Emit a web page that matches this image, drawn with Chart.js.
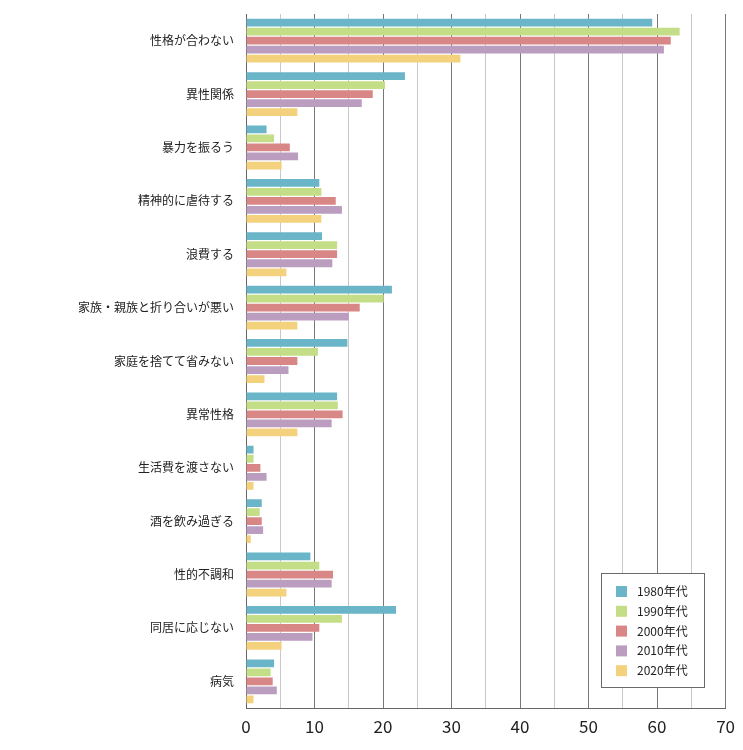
<!DOCTYPE html>
<html>
<head>
<meta charset="utf-8">
<script src="https://cdn.jsdelivr.net/npm/chart.js@4.4.0/dist/chart.umd.min.js"></script>
<style>
html,body{margin:0;padding:0;background:#fff;}
#wrap{width:743px;height:750px;position:relative;}
</style>
</head>
<body>
<div id="wrap"><canvas id="c" width="743" height="750"></canvas></div>
<script>
const categories = ["性格が合わない","異性関係","暴力を振るう","精神的に虐待する","浪費する","家族・親族と折り合いが悪い","家庭を捨てて省みない","異常性格","生活費を渡さない","酒を飲み過ぎる","性的不調和","同居に応じない","病気"];
const seriesNames = ["1980年代","1990年代","2000年代","2010年代","2020年代"];
const s1980 = [59.3,23.2,3.0,10.7,11.1,21.3,14.8,13.3,1.1,2.3,9.4,21.9,4.1];
const s1990 = [63.3,20.3,4.1,11.0,13.3,20.1,10.5,13.4,1.1,2.0,10.7,14.0,3.6];
const s2000 = [62.0,18.5,6.4,13.1,13.3,16.6,7.5,14.1,2.1,2.3,12.7,10.7,3.9];
const s2010 = [61.0,16.9,7.6,14.0,12.6,15.0,6.2,12.5,3.0,2.5,12.5,9.7,4.5];
const s2020 = [31.3,7.5,5.2,11.0,5.9,7.5,2.7,7.5,1.1,0.7,5.9,5.2,1.1];
const xTicks = [0,10,20,30,40,50,60,70];
const colors = ["#6bb5c8","#c4de87","#d98786","#bb9dc0","#f4d17c"];

const FONT = "'Noto Sans CJK JP','Noto Sans',sans-serif";
const allSeries = [s1980,s1990,s2000,s2010,s2020];

const legendBox = {
  id:'legendBox',
  afterDraw(chart){
    const ctx = chart.ctx;
    const x0=601, y0=573, w=103, h=114;
    ctx.save();
    ctx.fillStyle='#fff';
    ctx.fillRect(x0,y0,w,h);
    ctx.strokeStyle='#6a6a6a';
    ctx.lineWidth=1;
    ctx.strokeRect(x0+0.5,y0+0.5,w,h);
    ctx.font="12px "+FONT;
    ctx.textBaseline='middle';
    ctx.textAlign='left';
    seriesNames.forEach((n,i)=>{
      const cy = 591 + i*19.8;
      ctx.fillStyle=colors[i];
      ctx.fillRect(616,cy-5,11,11);
      ctx.fillStyle='#222';
      ctx.fillText(n,637,cy+0.5);
    });
    ctx.restore();
  }
};

new Chart(document.getElementById('c'),{
  type:'bar',
  data:{
    labels:categories,
    datasets:seriesNames.map((n,i)=>({
      label:n,
      data:allSeries[i],
      backgroundColor:colors[i],
      borderWidth:0,
      categoryPercentage:0.845,
      barPercentage:0.86
    }))
  },
  options:{
    indexAxis:'y',
    responsive:false,
    animation:false,
    layout:{padding:{top:14,right:17,left:0,bottom:0}},
    plugins:{legend:{display:false},tooltip:{enabled:false}},
    scales:{
      x:{
        min:0,max:70,
        afterFit(s){s.height=42;},
        afterBuildTicks(s){
          const t=[];for(let v=0;v<=70;v+=5)t.push({value:v});s.ticks=t;
        },
        ticks:{
          autoSkip:false,
          padding:8,
          color:'#222',
          font:{family:FONT,size:17},
          callback:(v)=>xTicks.includes(v)?String(v):''
        },
        grid:{
          drawTicks:false,
          color:(c)=> (c.tick && c.tick.value%10===0) ? '#777' : '#c8c8c8',
          lineWidth:1
        },
        border:{display:true,color:'#666',width:1}
      },
      y:{
        afterFit(s){s.width=246;s.paddingTop=0;s.paddingBottom=0;},
        ticks:{
          autoSkip:false,
          padding:12,
          color:'#222',
          font:{family:FONT,size:12}
        },
        grid:{display:false,drawTicks:false},
        border:{display:true,color:'#666',width:1}
      }
    }
  },
  plugins:[legendBox]
});
</script>
</body>
</html>
